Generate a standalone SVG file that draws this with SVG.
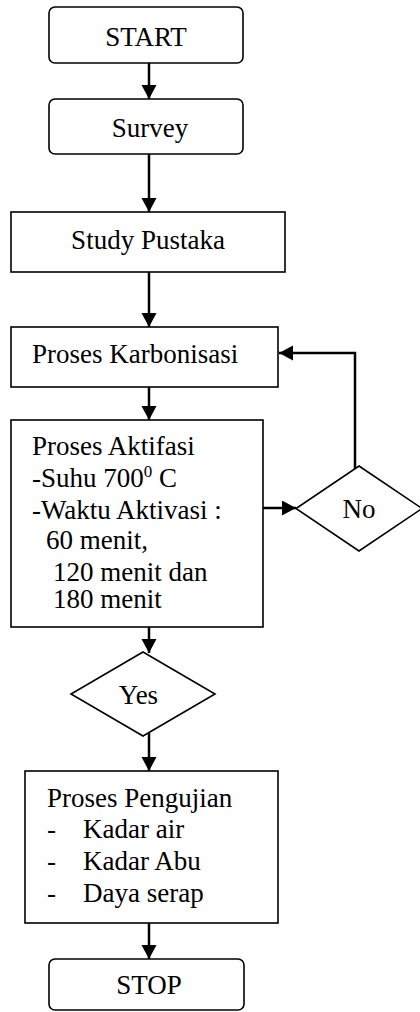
<svg xmlns="http://www.w3.org/2000/svg" width="420" height="1012" viewBox="0 0 420 1012">
<style>
.box{fill:#fff;stroke:#000;stroke-width:1.6}
.t{font-family:"Liberation Serif","Times New Roman",serif;font-size:27px;fill:#000}
.c{text-anchor:middle}
.ln{fill:none;stroke:#000;stroke-width:2.5}
</style>
<defs>
<marker id="ah" markerUnits="userSpaceOnUse" markerWidth="15" markerHeight="16" refX="14" refY="7.5" orient="auto">
<path d="M0,0 L14,7.5 L0,15 z" fill="#000"/>
</marker>
</defs>
<g id="connectors">
<line class="ln" x1="149" y1="61" x2="149" y2="99" marker-end="url(#ah)"/>
<line class="ln" x1="149" y1="150" x2="149" y2="212" marker-end="url(#ah)"/>
<line class="ln" x1="149" y1="272" x2="149" y2="327" marker-end="url(#ah)"/>
<line class="ln" x1="149" y1="387" x2="149" y2="420" marker-end="url(#ah)"/>
<line class="ln" x1="263" y1="508" x2="296" y2="508" marker-end="url(#ah)"/>
<polyline class="ln" points="355,477 355,353 279,353" marker-end="url(#ah)"/>
<line class="ln" x1="149" y1="612" x2="149" y2="653" marker-end="url(#ah)"/>
<line class="ln" x1="149" y1="733" x2="149" y2="771" marker-end="url(#ah)"/>
<line class="ln" x1="149" y1="913" x2="149" y2="959" marker-end="url(#ah)"/>
</g>
<g id="start">
<rect class="box" x="49" y="7" width="194" height="56" rx="6"/>
<text class="t c" x="146" y="46">START</text>
</g>
<g id="survey">
<rect class="box" x="49" y="99" width="194" height="55" rx="6"/>
<text class="t c" x="150" y="137">Survey</text>
</g>
<g id="study">
<rect class="box" x="11" y="212" width="274" height="60"/>
<text class="t c" x="148" y="249">Study Pustaka</text>
</g>
<g id="karbonisasi">
<rect class="box" x="11" y="327" width="267" height="60"/>
<text class="t" x="32" y="363">Proses Karbonisasi</text>
</g>
<g id="aktifasi">
<rect class="box" x="11" y="420" width="252" height="207"/>
<text class="t" x="32" y="455">Proses Aktifasi</text>
<text class="t" x="32" y="487">-Suhu 700<tspan font-size="17" dy="-10">0</tspan><tspan dy="10"> C</tspan></text>
<text class="t" x="32" y="519">-Waktu Aktivasi :</text>
<text class="t" x="46" y="549">60 menit,</text>
<text class="t" x="53" y="581">120 menit dan</text>
<text class="t" x="53" y="608">180 menit</text>
</g>
<g id="no">
<polygon class="box" points="359,466 422,508.5 359,551 296,508.5"/>
<text class="t c" x="359" y="518">No</text>
</g>
<g id="yes">
<polygon class="box" points="143,652 215,694 143,736 71,694"/>
<text class="t c" x="138.5" y="704">Yes</text>
</g>
<g id="pengujian">
<rect class="box" x="25" y="771" width="253" height="152"/>
<text class="t" x="47" y="807">Proses Pengujian</text>
<text class="t" x="47" y="838">-</text>
<text class="t" x="83" y="838">Kadar air</text>
<text class="t" x="47" y="870">-</text>
<text class="t" x="83" y="870">Kadar Abu</text>
<text class="t" x="47" y="902">-</text>
<text class="t" x="83" y="902">Daya serap</text>
</g>
<g id="stop">
<rect class="box" x="49" y="959" width="195" height="51" rx="6"/>
<text class="t c" x="149" y="994">STOP</text>
</g>
</svg>
